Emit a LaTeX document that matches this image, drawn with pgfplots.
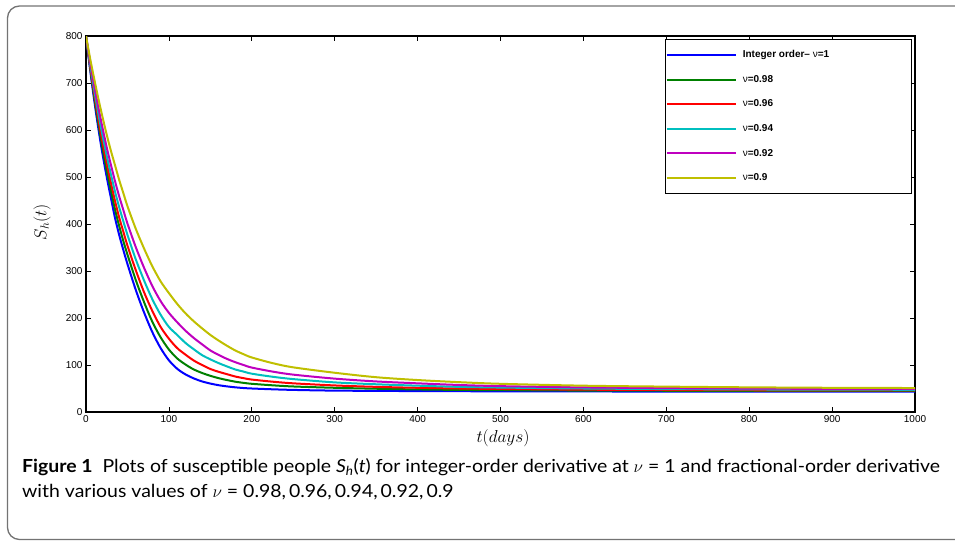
\documentclass[border=0pt]{standalone}
\usepackage{pgfplots}
\pgfplotsset{compat=1.18}
\usepackage{fontspec}
\setmainfont{Liberation Sans}
\newfontfamily\capfont[FakeStretch=1.08]{Lato}
\definecolor{mgreen}{rgb}{0,0.5,0}
\definecolor{mcyan}{rgb}{0,0.75,0.75}
\definecolor{mmag}{rgb}{0.75,0,0.75}
\definecolor{myel}{rgb}{0.75,0.75,0}
\begin{document}
\begin{tikzpicture}[x=1pt,y=1pt]
\useasboundingbox (0,0) rectangle (955,541);
\draw[color=black!55, line width=1.3pt, rounded corners=12pt] (958,535) -- (7.5,535) -- (7.5,1.5) -- (958,1.5);
\begin{axis}[
  at={(86pt,129pt)}, anchor=south west, scale only axis,
  width=829pt, height=376pt,
  xmin=0, xmax=1000, ymin=0, ymax=800,
  xtick={0,100,...,1000}, ytick={0,100,...,800},
  major tick length=5pt,
  tick style={black, line width=0.8pt},
  axis line style={line width=1.2pt},
  tick label style={font=\fontsize{10}{10}\selectfont},
  /pgf/number format/assume math mode=true,
  /pgf/number format/1000 sep={},
  xlabel={$t(days)$}, ylabel={$S_h(t)$},
  label style={font=\fontsize{18}{18}\selectfont},
  xlabel style={at={(axis description cs:0.503,-0.069)}, anchor=center},
  ylabel style={at={(axis description cs:-0.053,0.505)}, anchor=center},
  legend style={at={(1,1)}, anchor=north east, xshift=-2.7pt, yshift=-3pt,
    draw=black, line width=1pt, inner xsep=0pt, inner ysep=3.2pt,
    column sep=6pt, row sep=0pt,
    font=\fontsize{10}{10}\selectfont\bfseries,
    nodes={inner sep=0pt, minimum height=24.6pt}},
  legend cell align=left,
  legend image code/.code={\path (0pt,0pt) -- (12pt,0pt); \draw[#1] (12pt,0pt) -- (69pt,0pt);},
]
\addplot[blue, line width=2pt, smooth] coordinates {
(0,800)(5,728)(10,662)(15,602)(20,548)(25,500)(30,456)(35,413)(40,377)(45,345)(50,315)(60,260)(70,212)(80,170)(90,136)(100,110)(110,92)(120,80)(130,71.5)(140,65)(150,60.5)(160,57)(170,54.5)(180,52.5)(190,51)(200,50)(225,48.3)(250,47)(300,45.5)(400,44.5)(500,44)(600,43.7)(700,43.5)(800,43.5)(900,43.5)(1000,43.5)};
\addlegendentry{\makebox[169pt][l]{Integer order\textendash\ \textmd{ν}=1}}
\addplot[mgreen, line width=2pt, smooth] coordinates {
(0,800)(5,732)(10,669)(15,612)(20,561)(25,514)(30,472)(35,431)(40,396)(45,364)(50,335)(60,281)(70,234)(80,192)(90,159)(100,133)(110,114)(120,101)(130,90.5)(140,83)(150,77)(160,72)(170,68)(180,64.5)(190,62)(200,60)(225,56.8)(250,54.3)(300,51.5)(350,49.5)(400,48)(450,47)(500,46.5)(600,45.6)(700,45.2)(800,45)(900,44.8)(1000,44.7)};
\addlegendentry{\makebox[169pt][l]{\textmd{ν}=0.98}}
\addplot[red, line width=2pt, smooth] coordinates {
(0,800)(5,736)(10,677)(15,622)(20,573)(25,529)(30,488)(35,449)(40,414)(45,384)(50,354)(60,302)(70,255)(80,215)(90,181)(100,156)(110,136)(120,122)(130,109.5)(140,100)(150,91.5)(160,85.5)(170,80.5)(180,75.5)(190,72)(200,69)(225,64.5)(250,61)(300,56.5)(350,53.5)(400,51.5)(450,50)(500,49)(600,47.5)(700,46.8)(800,46.3)(900,46)(1000,45.9)};
\addlegendentry{\makebox[169pt][l]{\textmd{ν}=0.96}}
\addplot[mcyan, line width=2pt, smooth] coordinates {
(0,800)(5,740)(10,685)(15,634)(20,588)(25,545)(30,506)(35,469)(40,436)(45,406)(50,377)(60,325)(70,280)(80,240)(90,207)(100,181)(110,164)(120,147)(130,133.5)(140,121)(150,112)(160,104)(170,97)(180,90.5)(190,86)(200,81.5)(225,75)(250,70)(300,63)(350,59)(400,56)(450,53.5)(500,52)(600,50)(700,48.8)(800,48)(900,47.5)(1000,47.3)};
\addlegendentry{\makebox[169pt][l]{\textmd{ν}=0.94}}
\addplot[mmag, line width=2pt, smooth] coordinates {
(0,800)(5,745)(10,694)(15,647)(20,604)(25,563)(30,526)(35,491)(40,459)(45,430)(50,401)(60,351)(70,307)(80,268)(90,236)(100,211)(110,191)(120,173)(130,157.5)(140,144)(150,131)(160,121.5)(170,113)(180,106)(190,100)(200,94.5)(225,86)(250,79.5)(300,71)(350,65)(400,61)(450,57.5)(500,55)(600,52.3)(700,50.8)(800,49.8)(900,49.2)(1000,48.8)};
\addlegendentry{\makebox[169pt][l]{\textmd{ν}=0.92}}
\addplot[myel, line width=2pt, smooth] coordinates {
(0,800)(5,752)(10,708)(15,666)(20,627)(25,590)(30,556)(35,525)(40,494)(45,466)(50,438)(60,390)(70,348)(80,310)(90,278)(100,253)(110,230)(120,210)(130,193)(140,178)(150,164)(160,152)(170,141)(180,131)(190,123)(200,116)(225,104)(250,95)(300,83.5)(350,74)(400,68)(450,63.5)(500,60)(600,56)(700,54)(800,52.5)(900,51.5)(1000,51)};
\addlegendentry{\makebox[169pt][l]{\textmd{ν}=0.9}}
\end{axis}
\node[anchor=base west, inner sep=0pt] at (22,69) {\capfont\fontsize{18}{18}\selectfont\textbf{Figure 1}\hspace{0.55em}Plots of susceptible people \textit{S}\textsubscript{\textit{h}}(\textit{t}) for integer-order derivative at $\nu$ = 1 and fractional-order derivative};
\node[anchor=base west, inner sep=0pt] at (22,44) {\capfont\fontsize{18}{18}\selectfont with various values of $\nu$ = 0.98,\,0.96,\,0.94,\,0.92,\,0.9};
\end{tikzpicture}
\end{document}
